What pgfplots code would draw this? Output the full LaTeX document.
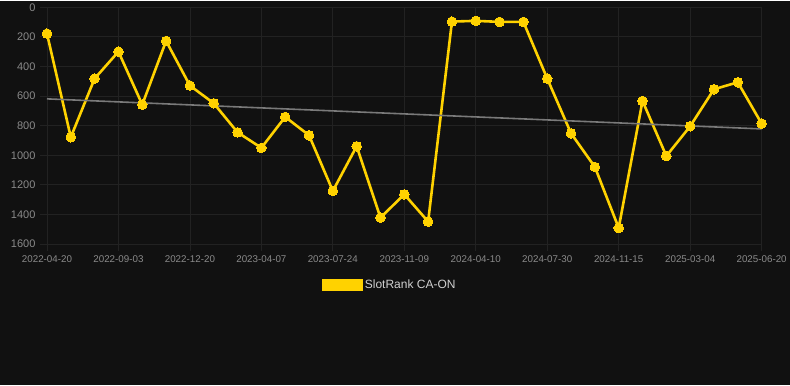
\documentclass[border=0pt]{standalone}
\usepackage{pgfplots}
\pgfplotsset{compat=1.18}
\usepackage{fontspec}
\setmainfont{Liberation Sans}
\definecolor{bgc}{HTML}{111111}
\definecolor{gridc}{HTML}{222222}
\definecolor{tickc}{HTML}{8A8A8A}
\definecolor{gold}{HTML}{FFD200}
\definecolor{trendc}{HTML}{7A7A7A}
\definecolor{legc}{HTML}{D0D0D0}
\begin{document}
\begin{tikzpicture}
\fill[bgc] (0,0) rectangle (790pt,384pt);
\begin{axis}[
  at={(47pt,141pt)}, anchor=south west,
  scale only axis, width=715pt, height=237pt,
  xmin=0, xmax=30, ymin=0, ymax=1600, y dir=reverse,
  clip=false,
  xtick={0,3,...,30},
  xticklabels={2022-04-20,2022-09-03,2022-12-20,2023-04-07,2023-07-24,2023-11-09,2024-04-10,2024-07-30,2024-11-15,2025-03-04,2025-06-20},
  ytick={0,200,...,1600},
  grid=major,
  grid style={draw=gridc, line width=0.8pt},
  axis line style={draw=gridc, line width=0.8pt},
  tick style={draw=gridc, line width=0.8pt},
  major tick length=7pt,
  tick align=outside,
  x tick label style={font=\fontsize{9.8}{11}\selectfont, text=tickc, yshift=-1pt},
  y tick label style={font=\fontsize{11}{13}\selectfont, text=tickc, xshift=-1pt},
  /pgf/number format/assume math mode=true,
  /pgf/number format/1000 sep={},
  xtick pos=bottom, ytick pos=left,
  legend style={at={(axis description cs:0.48,-0.173)}, anchor=center, draw=none, fill=none, text=legc, font=\fontsize{12}{14}\selectfont},
  legend cell align=left,
]
\addplot[gold, line width=2.6pt, mark=*, mark size=4.8pt, mark options={fill=gold, draw=gold, line width=0pt}, line join=round, forget plot] coordinates {
(0,178) (1,878) (2,482) (3,300) (4,658) (5,228) (6,529) (7,649) (8,845) (9,950)
(10,741) (11,865) (12,1241) (13,939) (14,1421) (15,1264) (16,1448) (17,97) (18,92) (19,99)
(20,99) (21,482) (22,852) (23,1079) (24,1491) (25,633) (26,1005) (27,804) (28,554) (29,507)
(30,786)
};
\addplot[trendc, line width=1.6pt, forget plot] coordinates {(0,619) (30,822)};
\addlegendimage{legend image code/.code={\fill[gold] (0pt,-5.5pt) rectangle (40pt,5.5pt);}}
\addlegendentry{SlotRank CA-ON}
\end{axis}
\end{tikzpicture}
\end{document}
